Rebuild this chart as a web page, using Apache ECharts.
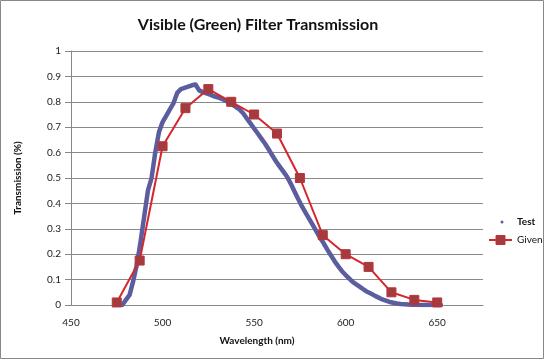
<!DOCTYPE html>
<html><head><meta charset="utf-8">
<script src="https://cdn.jsdelivr.net/npm/echarts@6/dist/echarts.min.js"></script>
<style>html,body{margin:0;padding:0;background:#fff}#c{width:546px;height:361px}</style>
</head><body><div id="c"></div>
<script>
const title = "Visible (Green) Filter Transmission";
const xAxisName = "Wavelength (nm)";
const yAxisName = "Transmission (%)";
const testName = "Test";
const givenName = "Given";

const testWavelengths = [478,480,482,484,486,488,490,492,494,496,498,500,502,504,506,508,510,512,514,516,518,520,522,524,526,528,530,532,534,536,538,540,542,544,546,548,550,552,554,556,558,560,562,564,566,568,570,572,574,576,578,580,582,584,586,588,590,592,594,596,598,600,602,604,606,608,610,612,614,616,618,620,622,624,626,628,630,632,634,636,638,640,642,644,646,648,650,652];
const testValues = [0.00,0.02,0.04,0.095,0.16,0.25,0.35,0.45,0.50,0.60,0.68,0.72,0.745,0.77,0.795,0.835,0.85,0.855,0.86,0.865,0.868,0.845,0.838,0.833,0.828,0.822,0.818,0.812,0.806,0.798,0.79,0.78,0.77,0.755,0.735,0.715,0.695,0.675,0.655,0.635,0.612,0.588,0.565,0.545,0.525,0.505,0.478,0.448,0.418,0.39,0.365,0.34,0.315,0.29,0.265,0.243,0.218,0.195,0.172,0.152,0.133,0.118,0.104,0.09,0.08,0.07,0.06,0.051,0.044,0.036,0.029,0.022,0.017,0.012,0.009,0.006,0.004,0.003,0.002,0.001,0.001,0.0,0.0,0.0,0.0,0.0,0.0,0.0];

const givenWavelengths = [475,487.5,500,512.5,525,537.5,550,562.5,575,587.5,600,612.5,625,637.5,650];
const givenValues = [0.01,0.175,0.625,0.775,0.85,0.80,0.75,0.675,0.50,0.275,0.20,0.15,0.05,0.02,0.01];

const chart = echarts.init(document.getElementById('c'), null, {renderer:'canvas'});
const font = 'Lato, "Liberation Sans", sans-serif';
chart.setOption({
  animation:false,
  backgroundColor:'#fff',
  grid:{left:71, right:63, top:51, bottom:56},
  xAxis:{type:'value', min:450, max:675, interval:50,
    axisLine:{show:true, lineStyle:{color:'#888', width:1}},
    axisTick:{show:false},
    splitLine:{show:false},
    axisLabel:{show:true, showMaxLabel:false, margin:13, fontSize:10, color:'#222', fontFamily:font}
  },
  yAxis:{type:'value', min:0, max:1, interval:0.1,
    axisLine:{show:true, lineStyle:{color:'#888', width:1}},
    axisTick:{show:true, length:6, lineStyle:{color:'#888'}},
    splitLine:{show:true, lineStyle:{color:'#8a8a8a', width:1}},
    axisLabel:{margin:10, fontSize:10, color:'#222', fontFamily:font,
      formatter:v=>String(Math.round(v*10)/10)}
  },
  series:[
    {name:testName, type:'line', showSymbol:false, symbol:'none',
     lineStyle:{color:'#5b5d9e', width:4.5, cap:'round', join:'round'}, z:2,
     data:testWavelengths.map((w,i)=>[w,testValues[i]])},
    {name:givenName, type:'line', symbol:'rect', symbolSize:9,
     lineStyle:{color:'#d6262c', width:2},
     itemStyle:{color:'#a43b3d', borderColor:'#b8343a', borderWidth:1}, z:3,
     data:givenWavelengths.map((w,i)=>[w,givenValues[i]])}
  ],
  graphic:[
    {type:'rect', shape:{x:0.5,y:0.5,width:543,height:358}, style:{fill:'none', stroke:'#888', lineWidth:1}, silent:true},
    {type:'text', x:258, y:25, style:{text:title, font:'bold 16px '+font, fill:'#111', textAlign:'center', textVerticalAlign:'middle'}},
    {type:'text', x:257, y:341, style:{text:xAxisName, font:'bold 10px '+font, fill:'#111', textAlign:'center', textVerticalAlign:'middle'}},
    {type:'text', x:18, y:178, rotation:Math.PI/2, style:{text:yAxisName, font:'bold 10px '+font, fill:'#111', textAlign:'center', textVerticalAlign:'middle'}},
    {type:'circle', shape:{cx:502, cy:222, r:1.5}, style:{fill:'#5b5d9e'}},
    {type:'text', x:517, y:222, style:{text:testName, font:'bold 10px '+font, fill:'#111', textAlign:'left', textVerticalAlign:'middle'}},
    {type:'line', shape:{x1:489, y1:240, x2:512, y2:240}, style:{stroke:'#d6262c', lineWidth:2}},
    {type:'rect', shape:{x:496, y:235.5, width:9, height:9}, style:{fill:'#a43b3d', stroke:'#b8343a', lineWidth:1}},
    {type:'text', x:517, y:240, style:{text:givenName, font:'10px '+font, fill:'#111', textAlign:'left', textVerticalAlign:'middle'}}
  ]
});
</script></body></html>
